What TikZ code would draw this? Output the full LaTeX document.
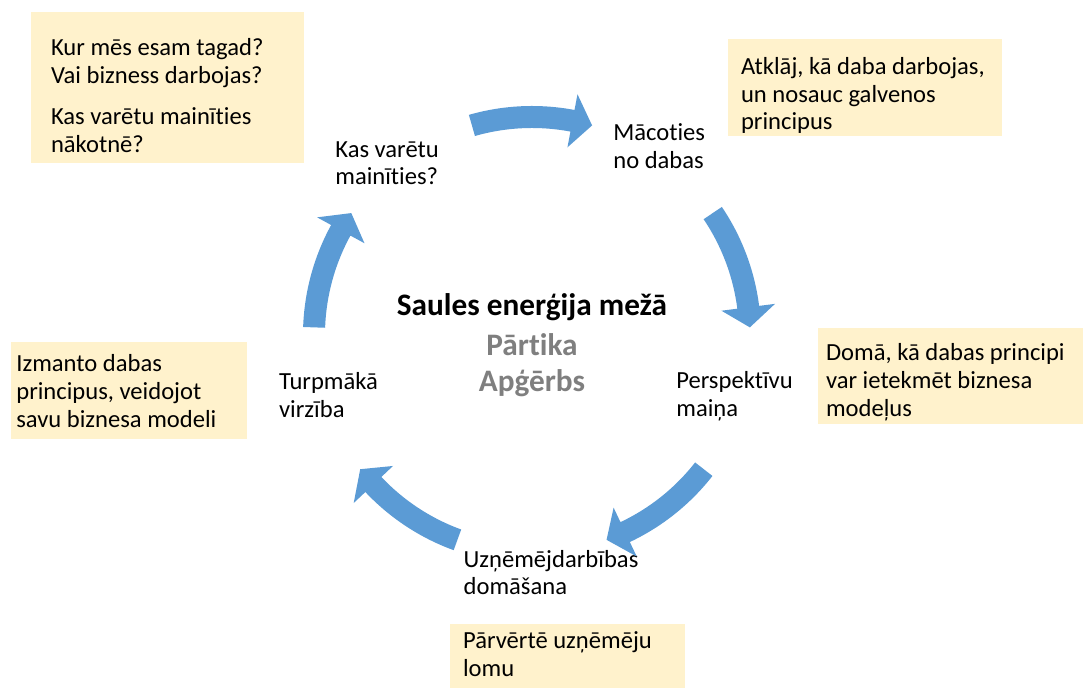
\documentclass[tikz,border=0pt]{standalone}
\usepackage{fontspec}
\setmainfont{Carlito}[Ligatures=CommonOff]
\usepackage{xcolor}
\usepackage{tikz}
\usetikzlibrary{positioning,fit}

\definecolor{noteYellow}{HTML}{FFF2CC}
\definecolor{cycleBlue}{HTML}{5B9BD5}
\definecolor{hubGray}{HTML}{7F7F7F}

\begin{document}
\begin{tikzpicture}[x=0.02cm, y=0.02cm,
    every node/.style={align=left, inner sep=0pt, font=\fontsize{14pt}{15.9pt}\selectfont},
    noteBox/.style={fill=noteYellow, draw=none, inner sep=0pt},
    noteText/.style={anchor=base west},
    stepText/.style={anchor=base west},
    hubText/.style={anchor=base, font=\fontsize{17.8pt}{20pt}\selectfont\bfseries},
    cycleArrow/.style={fill=cycleBlue, draw=none}]
    \useasboundingbox (0,0) rectangle (1083,688);

    % yellow notes
    \node (noteNowBox) [noteBox, fit={(30.7,676.3) (304.3,524.7)}] {};
    \node (noteNow) [noteText] at (50.7,535.5) {Kur mēs esam tagad?\\Vai bizness darbojas?\\[7.4pt]Kas varētu mainīties\\nākotnē?};
    \node (noteLearnBox) [noteBox, fit={(728.3,648.7) (1001.7,552.3)}] {};
    \node (noteLearn) [noteText] at (740.7,558) {Atklāj, kā daba darbojas,\\un nosauc galvenos\\principus};
    \node (noteShiftBox) [noteBox, fit={(818.3,359.7) (1083,264)}] {};
    \node (noteShift) [noteText] at (825.7,271.3) {Domā, kā dabas principi\\var ietekmēt biznesa\\modeļus};
    \node (noteMoveBox) [noteBox, fit={(11,346.3) (247.3,248.7)}] {};
    \node (noteMove) [noteText] at (16,260.7) {Izmanto dabas\\principus, veidojot\\savu biznesa modeli};
    \node (noteThinkBox) [noteBox, fit={(450,64) (685,0)}] {};
    \node (noteThink) [noteText] at (462.7,11.3) {Pārvērtē uzņēmēju\\lomu};

    % cycle steps
    \node (stepChange) [stepText] at (335,503) {Kas varētu\\mainīties?};
    \node (stepLearn) [stepText] at (613,519.7) {Mācoties\\no dabas};
    \node (stepShift) [stepText] at (676,271.3) {Perspektīvu\\maiņa};
    \node (stepThink) [stepText] at (463.3,93) {Uzņēmējdarbības\\domāšana};
    \node (stepMove) [stepText] at (278.7,270.7) {Turpmākā\\virzība};

    % hub text
    \coordinate (hub) at (532,353);
    \node (hubTitle) [hubText] at (532,372) {Saules enerģija mežā};
    \node (hubFood) [hubText, text=hubGray] at (532,332) {Pārtika};
    \node (hubWear) [hubText, text=hubGray] at (532,296) {Apģērbs};

    % curved arrows round the hub
    \begin{scope}[shift={(hub)}]
        \foreach \t in {106,34,-38,-110,178}
            \fill[cycleArrow] (\t:229) arc[start angle=\t, end angle=\t-26.7, radius=229]
                -- (\t-26.7:245) -- (\t-32:218) -- (\t-26.7:191) -- (\t-26.7:207)
                arc[start angle=\t-26.7, end angle=\t, radius=207] -- cycle;
    \end{scope}
\end{tikzpicture}
\end{document}
